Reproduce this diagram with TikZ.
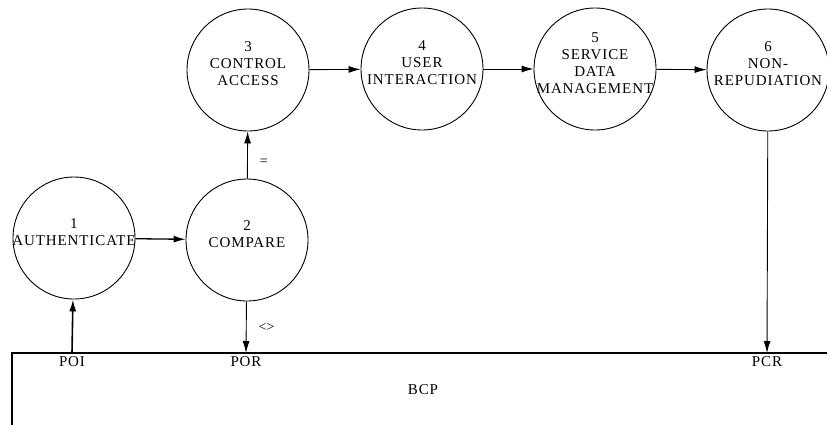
\documentclass[tikz,border=0pt]{standalone}
\usepackage{fontspec}
\setmainfont{Liberation Serif}
\newfontfamily\diagfont[LetterSpace=6]{Liberation Serif}
\usetikzlibrary{arrows.meta}

\tikzset{
  proc/.style={draw, circle, line width=0.9pt, minimum size=122pt, inner sep=0pt},
  proctext/.style={align=center, font=\diagfont\fontsize{15}{17}\selectfont, yshift=6pt},
  port/.style={font=\diagfont\fontsize{15}{17}\selectfont, anchor=north, inner sep=3pt},
  flowlbl/.style={font=\fontsize{14}{16}\selectfont, right, inner sep=2pt},
}

\begin{document}
\begin{tikzpicture}[x=1pt, y=-1pt, >={Latex[length=12pt,width=7pt]}, line width=0.9pt]
\useasboundingbox (0,0) rectangle (827,424);

% lower row:
\node[proc, label={[proctext]center:{1\\AUTHENTICATE}}] (auth) at (74,238) {};
\node[proc, label={[proctext]center:{2\\COMPARE}}] (cmp) at (247,240) {};

% upper row:
\node[proc, label={[proctext]center:{3\\CONTROL\\ACCESS}}] (ctrl) at (248,70) {};
\node[proc, label={[proctext]center:{4\\USER\\INTERACTION}}] (user) at (422,69) {};
\node[proc, label={[proctext]center:{5\\SERVICE\\DATA\\MANAGEMENT}}] (sdm) at (595,69) {};
\node[proc, label={[proctext]center:{6\\NON-\\REPUDIATION}}] (nrep) at (768,70) {};

% BCP box:
\draw[line width=1.3pt] (12,430) -- (12,353) -- (835,353);
\node[port] (poi) at (72,353) {POI};
\node[port] (por) at (246,353) {POR};
\node[port] (pcr) at (767,353) {PCR};
\node[port] (bcp) at (423,381) {BCP};

\draw[->, line width=1.6pt] (poi.north) -- (auth);
\draw[->, line width=1.3pt] (auth) -- (cmp);
\draw[->] (cmp) -- node[flowlbl, pos=0.35, xshift=10pt] {=} (ctrl);
\draw[->] (cmp) -- node[flowlbl, pos=0.5, xshift=10pt] {<>} (por.north);

\draw[->] (ctrl) -- (user);
\draw[->] (user) -- (sdm);
\draw[->] (sdm) -- (nrep);
\draw[->] (nrep) -- (pcr.north);

\end{tikzpicture}
\end{document}
